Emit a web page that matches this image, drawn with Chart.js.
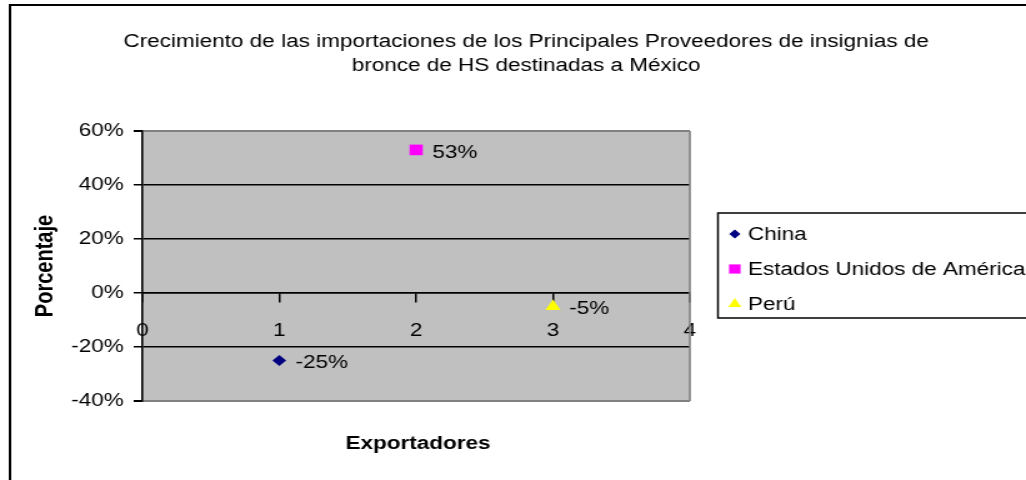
<!DOCTYPE html>
<html>
<head>
<meta charset="utf-8">
<script src="https://cdn.jsdelivr.net/npm/chart.js@4.4.1/dist/chart.umd.min.js"></script>
<style>
  body { margin: 0; background: #fff; overflow: hidden; }
  /* la imagen original esta estirada a lo ancho */
  #wrap { width: 821px; height: 480px; position: relative; transform: scaleX(1.2497); transform-origin: 0 0; }
</style>
</head>
<body>
<div id="wrap"><canvas id="grafica"></canvas></div>
<script>
// datos
const paises = ['China', 'Estados Unidos de América', 'Perú'];
const exportador = [1, 2, 3];
const crecimiento = [-25, 53, -5];
const ticksY = [-40, -20, 0, 20, 40, 60];
const ticksX = [0, 1, 2, 3, 4];
const titulo = ['Crecimiento de las importaciones de los Principales Proveedores de insignias de',
                'bronce de HS destinadas a México'];
const tituloX = 'Exportadores';
const tituloY = 'Porcentaje';

// estilos
const colores = ['#000080', '#FF00FF', '#FFFF00'];
const marcas = ['rectRot', 'rect', 'triangle'];
const radios = [5.5, 7.5, 7];
const fuente = "'Liberation Sans', Arial, sans-serif";

const fondo = {
  id: 'fondo',
  beforeDraw(chart) {
    const { ctx, chartArea: a } = chart;
    ctx.save();
    ctx.fillStyle = '#fff';
    ctx.fillRect(0, 0, chart.width, chart.height);
    ctx.strokeStyle = '#000';
    ctx.lineWidth = 2;
    ctx.strokeRect(8, 5, 1000, 600);
    ctx.fillStyle = '#C0C0C0';
    ctx.fillRect(a.left, a.top, a.right - a.left, a.bottom - a.top);
    ctx.restore();
  },
  beforeDatasetsDraw(chart) {
    const { ctx, chartArea: a } = chart;
    ctx.save();
    ctx.strokeStyle = '#808080';
    ctx.lineWidth = 1.6;
    ctx.beginPath();
    ctx.moveTo(a.right, a.top);
    ctx.lineTo(a.right, a.bottom);
    ctx.stroke();
    ctx.restore();
  },
  afterDatasetsDraw(chart) {
    const ctx = chart.ctx;
    ctx.save();
    ctx.font = '18px ' + fuente;
    ctx.fillStyle = '#000';
    ctx.textBaseline = 'middle';
    ctx.textAlign = 'left';
    chart.data.datasets.forEach((ds, i) => {
      const p = chart.getDatasetMeta(i).data[0];
      ctx.fillText(ds.data[0].y + '%', p.x + 13, p.y + 3);
    });
    ctx.restore();
  },
  afterDraw(chart) {
    const ctx = chart.ctx;
    ctx.save();
    ctx.fillStyle = '#000';
    ctx.textAlign = 'center';
    ctx.textBaseline = 'middle';
    ctx.font = '18px ' + fuente;
    ctx.fillText(titulo[0], 421, 42);
    ctx.fillText(titulo[1], 421, 66);
    ctx.font = 'bold 18px ' + fuente;
    ctx.fillText(tituloX, 334.5, 444);

    // leyenda
    ctx.strokeStyle = '#000';
    ctx.lineWidth = 1.5;
    ctx.strokeRect(574.5, 213, 400, 105);
    ctx.font = '18px ' + fuente;
    ctx.textAlign = 'left';
    chart.data.datasets.forEach((ds, i) => {
      const y = 234 + i * 35;
      ctx.fillStyle = ds.backgroundColor;
      Chart.helpers.drawPoint(ctx, {
        pointStyle: ds.pointStyle, radius: ds.pointRadius - 1, borderWidth: 0, rotation: 0
      }, 588, y);
      ctx.fillStyle = '#000';
      ctx.fillText(ds.label, 598.5, y + 1);
    });
    ctx.restore();
  }
};

const datasets = paises.map((p, i) => ({
  label: p,
  data: [{ x: exportador[i], y: crecimiento[i] }],
  backgroundColor: colores[i],
  borderColor: colores[i],
  borderWidth: 0,
  pointStyle: marcas[i],
  pointRadius: radios[i],
  pointHoverRadius: radios[i]
}));

const esBorde = c => c.tick && (c.tick.value === ticksY[0] || c.tick.value === ticksY[ticksY.length - 1]);

new Chart(document.getElementById('grafica'), {
  type: 'scatter',
  data: { datasets: datasets },
  options: {
    responsive: true,
    maintainAspectRatio: false,
    animation: false,
    events: [],
    layout: { padding: { left: 24, right: 269, top: 131, bottom: 79 } },
    plugins: {
      legend: { display: false },
      title: { display: false },
      tooltip: { enabled: false }
    },
    scales: {
      x: {
        type: 'linear',
        position: { y: 0 },
        min: ticksX[0],
        max: ticksX[ticksX.length - 1],
        afterBuildTicks: s => { s.ticks = ticksX.map(v => ({ value: v })); },
        grid: { drawOnChartArea: false, drawTicks: true, tickLength: 9, color: '#000', lineWidth: 1.5 },
        border: { display: true, color: '#000', width: 1.5 },
        ticks: { padding: 18, color: '#000', font: { family: fuente, size: 18 }, maxRotation: 0 }
      },
      y: {
        min: ticksY[0],
        max: ticksY[ticksY.length - 1],
        afterBuildTicks: s => { s.ticks = ticksY.map(v => ({ value: v })); },
        afterFit: s => { s.width = 90; },
        grid: {
          color: c => esBorde(c) ? '#808080' : '#000',
          tickColor: '#000',
          lineWidth: c => esBorde(c) ? 2 : 1.5,
          tickLength: 7
        },
        border: { display: true, color: '#000', width: 1.6 },
        ticks: {
          padding: 8, color: '#000', font: { family: fuente, size: 18 },
          callback: v => v + '%'
        },
        title: {
          display: true, text: tituloY, color: '#000', padding: 0,
          font: { family: fuente, size: 20, weight: 'bold', lineHeight: 1.2 }
        }
      }
    }
  },
  plugins: [fondo]
});
</script>
</body>
</html>
